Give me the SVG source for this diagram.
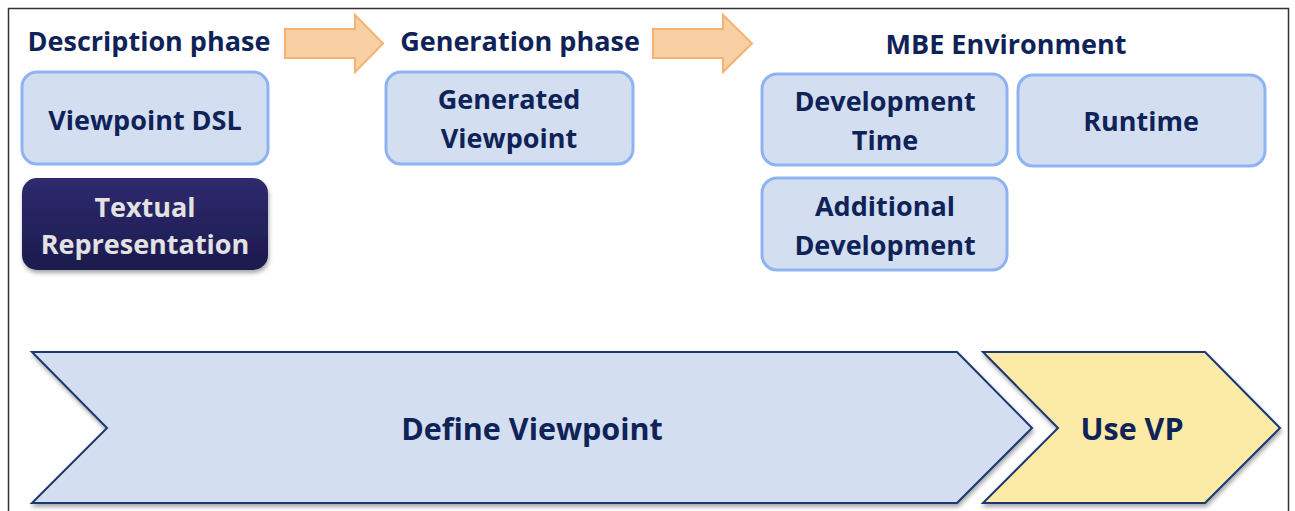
<svg xmlns="http://www.w3.org/2000/svg" width="1295" height="511" viewBox="0 0 1295 511">
<defs>
<linearGradient id="navy" x1="0" y1="0" x2="0" y2="1">
<stop offset="0" stop-color="#2e2a6e"/>
<stop offset="1" stop-color="#1c1a4e"/>
</linearGradient>
<filter id="sh" x="-5%" y="-5%" width="110%" height="115%">
<feDropShadow dx="1" dy="3" stdDeviation="2" flood-color="#000" flood-opacity="0.35"/>
</filter>
<style>
text{font-family:"Open Sans",Lato,"Liberation Sans",sans-serif;font-weight:bold;fill:#0f2358;text-anchor:middle}
.hdr{font-size:27px}
.lbl{font-size:27px}
.big{font-size:30.5px}
.box{fill:#d3dff0;stroke:#8db3f2;stroke-width:3}
.arrow{fill:#f9d0a4;stroke:#f6b274;stroke-width:2}
.chev{stroke:#1c3872;stroke-width:2;stroke-linejoin:miter}
</style>
</defs>
<rect x="0" y="0" width="1295" height="511" fill="#fff"/>
<path d="M8.5 520 V8.5 H1288.5 V520" fill="none" stroke="#333" stroke-width="1.5"/>
<g id="connectors">
<path class="arrow" d="M285 29 H355 V15 L383 43.5 L355 72 V58 H285 Z"/>
<path class="arrow" d="M653 29 H723 V15 L752 43.5 L723 72 V58 H653 Z"/>
</g>
<g id="hdr-description"><text class="hdr" x="149" y="51">Description phase</text></g>
<g id="hdr-generation"><text class="hdr" x="520" y="51">Generation phase</text></g>
<g id="hdr-mbe"><text class="hdr" x="1006" y="54">MBE Environment</text></g>
<g id="viewpoint-dsl">
<rect class="box" x="22" y="72" width="246" height="92" rx="15"/>
<text class="lbl" x="145" y="130">Viewpoint DSL</text>
</g>
<g id="textual-representation">
<rect x="22" y="178" width="246" height="92" rx="15" fill="url(#navy)" filter="url(#sh)"/>
<text class="lbl" x="145" y="217" style="fill:#e2e2e2">Textual</text>
<text class="lbl" x="145" y="254" style="fill:#e2e2e2">Representation</text>
</g>
<g id="generated-viewpoint">
<rect class="box" x="386" y="72" width="247" height="92" rx="15"/>
<text class="lbl" x="509" y="109">Generated</text>
<text class="lbl" x="509" y="148">Viewpoint</text>
</g>
<g id="development-time">
<rect class="box" x="762" y="74" width="245" height="91" rx="15"/>
<text class="lbl" x="885" y="111">Development</text>
<text class="lbl" x="885" y="150">Time</text>
</g>
<g id="runtime">
<rect class="box" x="1018" y="75" width="247" height="91" rx="15"/>
<text class="lbl" x="1141" y="131">Runtime</text>
</g>
<g id="additional-development">
<rect class="box" x="762" y="178" width="245" height="92" rx="15"/>
<text class="lbl" x="885" y="216">Additional</text>
<text class="lbl" x="885" y="255">Development</text>
</g>
<g id="define-viewpoint">
<path class="chev" d="M32 352 H957 L1032 428 L957 503 H32 L107 428 Z" fill="#d3dff0" filter="url(#sh)"/>
<text class="big" x="532" y="440">Define Viewpoint</text>
</g>
<g id="use-vp">
<path class="chev" d="M983 352 H1205 L1280 428 L1205 503 H983 L1058 428 Z" fill="#fbeba6" filter="url(#sh)"/>
<text class="big" x="1132" y="440">Use VP</text>
</g>
</svg>
